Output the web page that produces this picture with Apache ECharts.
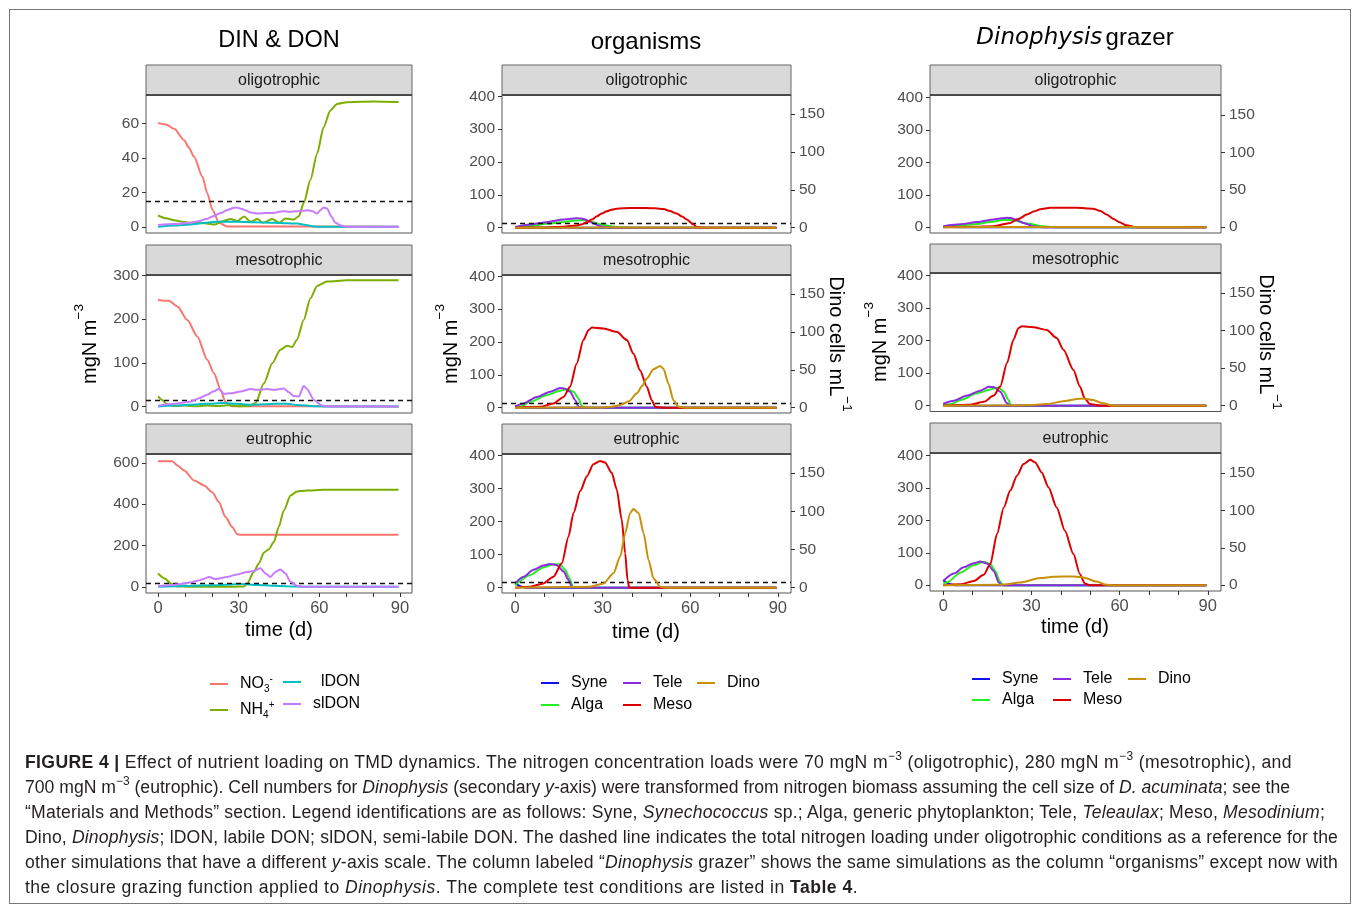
<!DOCTYPE html>
<html>
<head>
<meta charset="utf-8">
<title>Figure 4</title>
<script src="https://cdn.jsdelivr.net/npm/echarts@6.0.0/dist/echarts.min.js"></script>
<style>
  body { margin: 0; background: #fff; }
  #main { position: absolute; left: 0; top: 0; width: 1358px; height: 905px; }
  #frame { position: absolute; left: 9px; top: 9px; width: 1340px; height: 893px; border: 1px solid #777; pointer-events: none; }
  #caption { position: absolute; left: 25px; top: 750px; font-family: "Liberation Sans", Arial, sans-serif; font-size: 17.6px; line-height: 25px; color: #231f20; white-space: nowrap; }
  #caption div span.ln { display: inline-block; }
  #caption sup { font-size: 12px; line-height: 0; position: relative; top: -1px; }
</style>
</head>
<body>
<div id="main"></div>
<div id="frame"></div>
<div id="caption">
<div><span class="ln" data-end="1292"><b>FIGURE 4 |</b> Effect of nutrient loading on TMD dynamics. The nitrogen concentration loads were 70 mgN m<sup>−3</sup> (oligotrophic), 280 mgN m<sup>−3</sup> (mesotrophic), and</span></div>
<div><span class="ln" data-end="1290">700 mgN m<sup>−3</sup> (eutrophic). Cell numbers for <i>Dinophysis</i> (secondary <i>y</i>-axis) were transformed from nitrogen biomass assuming the cell size of <i>D. acuminata</i>; see the</span></div>
<div><span class="ln" data-end="1325">“Materials and Methods” section. Legend identifications are as follows: Syne, <i>Synechococcus</i> sp.; Alga, generic phytoplankton; Tele, <i>Teleaulax</i>; Meso, <i>Mesodinium</i>;</span></div>
<div><span class="ln" data-end="1338">Dino, <i>Dinophysis</i>; lDON, labile DON; slDON, semi-labile DON. The dashed line indicates the total nitrogen loading under oligotrophic conditions as a reference for the</span></div>
<div><span class="ln" data-end="1338">other simulations that have a different <i>y</i>-axis scale. The column labeled “<i>Dinophysis</i> grazer” shows the same simulations as the column “organisms” except now with</span></div>
<div><span class="ln" data-end="858">the closure grazing function applied to <i>Dinophysis</i>. The complete test conditions are listed in <b>Table 4</b>.</span></div>
</div>
<script type="text/javascript">

// ---- data: [time (d), value] ----
// DIN & DON column
var no3Oligo = [[0,60.5],[3,59.5],[6,57],[9.7,50.4],[11.5,46],[13.4,40.7],[16.5,29.2],[18.3,19.6],[20.2,10],[22.7,2.3],[25.7,0.2],[89.5,0]];
var nh4Oligo = [[0,6.6],[3,5],[6,3.8],[9,3],[12,2.3],[15,2.5],[18,2],[21,1.3],[24,3.3],[27,4.6],[29.5,3.3],[32,6],[34.4,3],[37,4.6],[39,2.3],[42.5,4.6],[45,2.3],[47.4,4.8],[50.5,4.2],[52.4,6.2],[54.2,13.8],[56.7,27.3],[59.2,42.7],[61.6,58],[64.1,67.7],[66.6,71.5],[70.3,72.5],[80,72.9],[89.5,72.6]];
var ldonOligo = [[0,0],[6,0.7],[12,1.3],[17,2.2],[22,3],[26,3],[30,2.9],[36,2.6],[43,2.3],[48,2.1],[51.7,1.9],[55,1],[58,0.2],[62,0],[89.5,0]];
var sldonOligo = [[0,1],[6,1.6],[12,2.3],[15,3.2],[18,4.6],[21,6.5],[23.3,8],[26,10],[28.8,11.3],[30.5,10.7],[32,10],[34.5,8.3],[37,7.7],[40,8],[43,8],[45,8.8],[46.8,9],[49,8.7],[51.7,9],[54,9.3],[56,9.6],[57.5,9],[59.2,7.7],[60.5,9.8],[61.6,11.3],[62.9,10.6],[64.5,6],[66,2.3],[68,0.8],[70.3,0],[89.5,0]];

var no3Meso = [[0,244],[4,242],[7.2,229],[10.9,198],[14.6,160],[18.3,107],[20.8,76],[23.3,38],[25,11],[27.6,0.5],[89.5,0]];
var nh4Meso = [[0,23],[1.5,15],[3.5,4],[6,1],[10,2],[14,0.5],[18,2],[22,1],[26,2.5],[30,0.5],[34,1.5],[36.3,8],[39.4,53],[42.5,99],[45.5,130],[48,139],[49.9,136],[51.7,153],[54.2,198],[56.7,248],[59.2,276],[62.9,286],[70.3,289],[89.5,289]];
var ldonMeso = [[0,0],[6,2],[12,4],[18,6],[24.5,8],[29,6],[34.4,4],[40,5],[44,6],[48,6],[52,3.5],[58,0.5],[62,0],[89.5,0]];
var sldonMeso = [[0,1.5],[6,6],[12,11],[15,18],[18.3,27],[20.5,34],[22.6,40],[24.5,29],[27,30],[30.7,34],[34.4,40],[37,38],[40.6,40],[43,38],[46.8,41],[48.5,33],[50.5,24],[52.4,23],[54.2,47],[55.4,40],[58,15],[61,2],[64,0],[89.5,0]];

var no3Eu = [[0,608],[5.3,608],[7.2,587],[9.7,563],[13.4,515],[17.1,491],[20.2,458],[22.6,410],[25.1,338],[27.6,290],[29.5,254],[30.7,252],[89.5,252]];
var nh4Eu = [[0,64],[2.5,40],[4.7,16],[7.2,2],[12,0],[20,0],[28,0],[32,2],[33.2,16],[35.6,72],[37.5,113],[39.4,166],[41.2,182],[43.1,217],[44.9,290],[46.8,370],[49.3,442],[51.7,462],[55.4,466],[61.6,470],[89.5,470]];
var ldonEu = [[0,0],[10,4],[20,8],[30.7,13],[37,9],[43,5],[49,2],[54,0],[89.5,0]];
var sldonEu = [[0,3],[4,7],[8.4,13],[11.5,20],[14.6,29],[17,38],[18.9,48],[21.4,37],[25.7,48],[29.5,60],[33.2,72],[35.6,77],[38.1,90],[40,64],[41.8,48],[43.7,72],[45.5,84],[47.4,64],[49.3,24],[51.7,5],[54,0],[89.5,0]];

// organisms column
var syneOligo = [[0,0.5],[5,0],[89.5,0]];
var algaOligo = [[0,1],[5,5],[10.8,12],[15,16],[18.8,20],[21,22],[23.4,23],[25,21],[26.8,17],[29,11],[31.4,7],[34,3],[36,1],[40,0],[89.5,0]];
var teleOligo = [[0,2],[5.1,10],[10.8,17],[16.6,25],[19,27.5],[21.1,29],[22.6,28],[24,25],[25.5,19],[26.8,13],[28.5,7],[30.3,3],[33.7,0],[89.5,0]];
var mesoOligo = [[0,0],[10,1],[16.6,3],[21.1,7],[23,11],[24.6,17],[26.3,25],[28,35],[29.7,43],[31.4,50],[33,55],[34.8,58],[39.4,60],[45.1,60],[48,59],[50.8,57],[53,51],[55.4,43],[57.2,34],[58.8,25],[61.1,10],[62.2,2],[65.7,0],[89.5,0]];
var dinoOligo = [[0,0],[30,0.5],[50,0.8],[70,0.3],[89.5,0.2]];

var syneMeso = [[0,5],[2,1],[4,0],[89.5,0]];
var algaMeso = [[0,1],[1.7,3],[5.1,18],[10.8,38],[15.4,52],[17.7,56],[20,49],[21.7,28],[22.8,5],[24,0],[89.5,0]];
var teleMeso = [[0,4],[2.9,13],[7.4,33],[12,49],[15.4,60],[17.1,58],[18.8,49],[20.6,23],[21.7,3],[23.4,0],[89.5,0]];
var mesoMeso = [[0,0],[8.6,3],[13.1,13],[16.6,33],[18.8,64],[21.1,135],[23.4,206],[25.1,236],[26.3,244],[30.3,241],[34.8,231],[38.3,206],[40.5,165],[42.8,114],[45.1,64],[46.8,23],[48,3],[50.8,0],[89.5,0]];
var dinoMeso = [[0,0],[30.3,1],[33,3],[36,8],[39,20],[41.7,44],[43.5,66],[45.1,89],[47.4,117],[49.7,127],[50.8,119],[52.5,74],[54.2,23],[56,3],[58.8,0],[89.5,0]];

var syneEu = [[0,13],[2.3,3],[4,0],[89.5,0]];
var algaEu = [[0,8],[5.1,38],[9.7,61],[13.1,71],[15.4,71],[17.1,54],[18.6,28],[19.8,3],[21,0],[89.5,0]];
var teleEu = [[0,13],[2.9,33],[6.3,54],[9.7,67],[12,72],[14.3,68],[16.6,49],[18.3,23],[19.4,3],[21,0],[89.5,0]];
var mesoEu = [[0,0],[5.1,3],[9.7,13],[13.1,33],[16,74],[18.3,155],[20,226],[22.3,292],[24.6,337],[26.8,373],[29.1,383],[30.8,378],[33.1,347],[34.8,297],[36.5,206],[37.7,104],[38.5,23],[39.1,0],[89.5,0]];
var dinoEu = [[0,0],[25.7,3],[30.3,13],[33.7,44],[36,94],[37.7,165],[39.4,226],[40.5,238],[42.3,226],[44,165],[45.7,84],[47.4,28],[49.7,3],[52,0],[89.5,0]];

// Dinophysis grazer column
var syneGzOligo = [[0,0.5],[5,0],[89.5,0]];
var algaGzOligo = [[0,1],[5,5],[11.5,10],[16,16],[20.6,22],[23.9,22],[26,17],[28.5,11],[34,3],[37.5,0],[89.5,0]];
var teleGzOligo = [[0,3],[5.9,9],[11.5,16],[17.2,24],[21.7,29],[23,28],[24.5,24],[27.3,13],[30.7,3],[34,0],[89.5,0]];
var mesoGzOligo = [[0,0],[10,1],[17.2,3],[22.8,13],[25.5,25],[28.5,39],[31,49],[33,55],[36.4,60],[45.4,60],[51,57],[53.5,50],[55.6,39],[58,25],[60,15],[62.3,6],[65.7,0],[89.5,0]];
var dinoGzOligo = [[0,0],[30,0.4],[50,0.6],[70,0.2],[89.5,0.1]];

var syneGzMeso = [[0,4],[2,1],[4,0],[89.5,0]];
var algaGzMeso = [[0,1],[2.5,4],[5.9,17],[11.5,38],[16,50],[18.8,56],[20.6,43],[22.2,17],[23.1,0],[89.5,0]];
var teleGzMeso = [[0,5],[3.6,15],[8.1,31],[12.6,46],[15.5,58],[17.2,57],[19.4,43],[21.7,7],[22.8,0],[89.5,0]];
var mesoGzMeso = [[0,0],[9.3,3],[13.8,12],[17.2,31],[19.4,59],[21.7,131],[23.9,203],[25.6,239],[26.8,244],[30.7,241],[35.2,233],[38.6,208],[40.9,172],[44.3,110],[46.5,59],[48.2,21],[49.9,5],[53.3,0],[89.5,0]];
var dinoGzMeso = [[0,0],[28.5,1],[35.2,5],[42,15],[45,20],[47.7,22],[51,17],[54.4,7],[57.8,0],[89.5,0]];

var syneGzEu = [[0,15],[2.5,3],[4.2,0],[89.5,0]];
var algaGzEu = [[0,5],[1.4,9],[5.9,39],[10.4,62],[13.8,72],[16,65],[17.7,44],[19.2,13],[20.3,0],[89.5,0]];
var teleGzEu = [[0,13],[3.6,36],[7,55],[10.4,68],[12.6,73],[14.9,67],[17.2,44],[18.9,8],[20,0],[89.5,0]];
var mesoGzEu = [[0,0],[5.9,3],[10.4,13],[13.8,32],[16,65],[18.3,158],[20.6,240],[22.8,292],[25.1,338],[27.3,374],[29.6,387],[31.3,379],[33.5,348],[35.8,302],[38.6,240],[41.4,168],[44.3,96],[46.5,34],[48.2,5],[49.9,0],[89.5,0]];
var dinoGzEu = [[0,0],[19.4,1],[26.2,8],[33,22],[37.5,26],[44.3,27],[47.7,24],[52.2,11],[55.6,1],[57.8,0],[89.5,0]];

// ticks, labels, reference load
var timeTicks = [0,10,20,30,40,50,60,70,80,90];
var timeLabels = [0,30,60,90];
var dinTicks = [[0,20,40,60],[0,100,200,300],[0,200,400,600]];
var orgTicks = [0,100,200,300,400];
var dinoCellTicks = [0,50,100,150];
var refLoad = 15;
var conditions = ['oligotrophic','mesotrophic','eutrophic'];

var colors = {
    'NO3': '#F8766D', 'NH4': '#7CAE00', 'lDON': '#00BFC4', 'slDON': '#C77CFF',
    'Syne': '#1010F0', 'Alga': '#22EE22', 'Tele': '#8A2BE2', 'Meso': '#DD0000', 'Dino': '#C8900A'
};

// ---- layout ----
var cols = [{left:146,width:266},{left:502,width:289},{left:930,width:291}];
var rows = [
    [{strip:65,top:95,bottom:233},{strip:245,top:275,bottom:413},{strip:424,top:454,bottom:593}],
    [{strip:65,top:95,bottom:233},{strip:245,top:275,bottom:413},{strip:424,top:454,bottom:593}],
    [{strip:65,top:95,bottom:233},{strip:244,top:273,bottom:411.5},{strip:423,top:453,bottom:591}]
];
var yRange = [
    [[-3.6,76.7],[-15,301],[-30,643]],
    [[-16,404],[-16,404],[-16,404]],
    [[-18,408],[-18,408],[-18,408]]
];
var cellFactor = 2.31;   // mgN m-3 per Dino cell mL-1

var panels = [
    {col:0,row:0,lines:[['NO3',no3Oligo],['NH4',nh4Oligo],['lDON',ldonOligo],['slDON',sldonOligo]]},
    {col:0,row:1,lines:[['NO3',no3Meso],['NH4',nh4Meso],['lDON',ldonMeso],['slDON',sldonMeso]]},
    {col:0,row:2,lines:[['NO3',no3Eu],['NH4',nh4Eu],['lDON',ldonEu],['slDON',sldonEu]]},
    {col:1,row:0,lines:[['Syne',syneOligo],['Alga',algaOligo],['Tele',teleOligo],['Meso',mesoOligo],['Dino',dinoOligo]]},
    {col:1,row:1,lines:[['Syne',syneMeso],['Alga',algaMeso],['Tele',teleMeso],['Meso',mesoMeso],['Dino',dinoMeso]]},
    {col:1,row:2,lines:[['Syne',syneEu],['Alga',algaEu],['Tele',teleEu],['Meso',mesoEu],['Dino',dinoEu]]},
    {col:2,row:0,lines:[['Syne',syneGzOligo],['Alga',algaGzOligo],['Tele',teleGzOligo],['Meso',mesoGzOligo],['Dino',dinoGzOligo]]},
    {col:2,row:1,lines:[['Syne',syneGzMeso],['Alga',algaGzMeso],['Tele',teleGzMeso],['Meso',mesoGzMeso],['Dino',dinoGzMeso]]},
    {col:2,row:2,lines:[['Syne',syneGzEu],['Alga',algaGzEu],['Tele',teleGzEu],['Meso',mesoGzEu],['Dino',dinoGzEu]]}
];

var FONT = '"Liberation Sans", Arial, sans-serif';
var tickLabel = {color:'#4d4d4d', fontSize:15.5, fontFamily:FONT};
var noLine = {show:false, onZero:false};

var grids = [], xAxes = [], yAxes = [], rightAxes = [], series = [], graphics = [];

panels.forEach(function (p, i) {
    var c = cols[p.col], r = rows[p.col][p.row], yr = yRange[p.col][p.row];
    var bottomRow = p.row === 2;
    var yTicks = p.col === 0 ? dinTicks[p.row] : orgTicks;
    grids.push({left:c.left, top:r.top, width:c.width, height:r.bottom - r.top,
                show:true, borderColor:'#555', borderWidth:1, backgroundColor:'#fff'});
    xAxes.push({
        type:'value', gridIndex:i, min:-4.5, max:94.5, position:'bottom',
        axisLine:noLine, splitLine:{show:false},
        axisTick:{show:bottomRow, customValues:timeTicks, length:4, lineStyle:{color:'#333'}},
        axisLabel:{show:bottomRow, customValues:timeLabels, margin:7, fontSize:16.5, color:'#4d4d4d', fontFamily:FONT}
    });
    yAxes.push({
        type:'value', gridIndex:i, min:yr[0], max:yr[1], position:'left',
        axisLine:noLine, splitLine:{show:false},
        axisTick:{show:true, customValues:yTicks, length:4, lineStyle:{color:'#333'}},
        axisLabel:Object.assign({customValues:yTicks, margin:7}, tickLabel)
    });
    if (p.col > 0) {
        rightAxes.push({
            type:'value', gridIndex:i, min:yr[0] / cellFactor, max:yr[1] / cellFactor, position:'right',
            axisLine:noLine, splitLine:{show:false},
            axisTick:{show:true, customValues:dinoCellTicks, length:4, lineStyle:{color:'#333'}},
            axisLabel:Object.assign({customValues:dinoCellTicks, margin:8}, tickLabel)
        });
    }
    p.lines.forEach(function (ln, j) {
        var s = {
            name:ln[0], type:'line', data:ln[1], xAxisIndex:i, yAxisIndex:i,
            showSymbol:false, symbol:'none', smooth:0.25, smoothMonotone:'x',
            lineStyle:{color:colors[ln[0]], width:2}, itemStyle:{color:colors[ln[0]]},
            silent:true, animation:false, z:2 + j
        };
        if (p.col < 2 && j === p.lines.length - 1) {
            s.markLine = {silent:true, symbol:'none', label:{show:false}, animation:false,
                lineStyle:{color:'#111', type:[5,4], width:1.3}, data:[{yAxis:refLoad}]};
        }
        series.push(s);
    });
    // strip header
    graphics.push({type:'rect', shape:{x:c.left, y:r.strip, width:c.width, height:r.top - r.strip},
        style:{fill:'#d9d9d9', stroke:'#666', lineWidth:1}, z:10});
    graphics.push({type:'line', shape:{x1:c.left, y1:r.top, x2:c.left + c.width, y2:r.top},
        style:{stroke:'#333', lineWidth:1.6}, z:11});
    graphics.push({type:'text', x:c.left + c.width / 2, y:(r.strip + r.top) / 2 + 1, z:12,
        style:{text:conditions[p.row], fill:'#1a1a1a', fontSize:16, fontFamily:FONT, align:'center', verticalAlign:'middle'}});
});

// column titles
graphics.push({type:'text', x:279, y:41, style:{text:'DIN & DON', fill:'#000', fontSize:23.5, fontFamily:FONT, align:'center', verticalAlign:'middle'}});
graphics.push({type:'text', x:646, y:42, style:{text:'organisms', fill:'#000', fontSize:24, fontFamily:FONT, align:'center', verticalAlign:'middle'}});
graphics.push({type:'text', x:1075, y:38, style:{text:'{i|Dinophysis} {g|grazer}', fill:'#000', align:'center', verticalAlign:'middle',
    rich:{i:{fontStyle:'italic', fontSize:23, fontFamily:'"DejaVu Sans", sans-serif', fill:'#000'},
          g:{fontSize:24, fontFamily:FONT, fill:'#000'}}}});

// axis titles
var unitRich = {
    a:{fontSize:20, fontFamily:FONT, fill:'#000', lineHeight:28, verticalAlign:'bottom'},
    s:{fontSize:13.5, fontFamily:FONT, fill:'#000', lineHeight:28, verticalAlign:'top'}
};
[[86,344],[447,344],[876,342]].forEach(function (pos) {
    graphics.push({type:'text', x:pos[0], y:pos[1], rotation:Math.PI / 2,
        style:{text:'{a|mgN m}{s|−3}', align:'center', verticalAlign:'middle', rich:unitRich}});
});
[[840,344],[1270,342]].forEach(function (pos) {
    graphics.push({type:'text', x:pos[0], y:pos[1], rotation:-Math.PI / 2,
        style:{text:'{a|Dino cells mL}{s|−1}', align:'center', verticalAlign:'middle', rich:unitRich}});
});
[[279,630],[646,632],[1075,627]].forEach(function (pos) {
    graphics.push({type:'text', x:pos[0], y:pos[1],
        style:{text:'time (d)', fill:'#000', fontSize:20, fontFamily:FONT, align:'center', verticalAlign:'middle'}});
});

// legends
var legendRich = {
    n:{fontSize:16, fontFamily:FONT, color:'#000', lineHeight:20, padding:[0,0,0,7]},
    sb:{fontSize:10, fontFamily:FONT, color:'#000', lineHeight:20, verticalAlign:'bottom'},
    sp:{fontSize:10, fontFamily:FONT, color:'#000', lineHeight:20, verticalAlign:'top'},
    g:{fontSize:16, fontFamily:FONT, color:'#000', lineHeight:20, padding:[0,0,0,15]}
};
function legendName(name) {
    if (name === 'NO3') return '{n|NO}{sb|3}{sp|-}';
    if (name === 'NH4') return '{n|NH}{sb|4}{sp|+}';
    if (name === 'lDON') return '{g|lDON}';
    return '{n|' + name + '}';
}
function makeLegend(names, left, top, gap) {
    return {data:names, left:left, top:top, orient:'vertical', icon:'rect', itemWidth:18, itemHeight:2,
        itemGap:gap, selectedMode:false, formatter:legendName, padding:0,
        textStyle:{rich:legendRich, fontSize:16, fontFamily:FONT, color:'#000'}};
}
var legends = [
    makeLegend(['NO3','NH4'], 210, 674, 6),
    makeLegend(['lDON','slDON'], 283, 674, 6),
    makeLegend(['Syne','Alga'], 541, 675, 6),
    makeLegend(['Tele','Meso'], 623, 675, 6),
    makeLegend(['Dino'], 697, 675, 6),
    makeLegend(['Syne','Alga'], 972, 671, 5),
    makeLegend(['Tele','Meso'], 1053, 671, 5),
    makeLegend(['Dino'], 1128, 671, 5)
];

var myChart = echarts.init(document.getElementById('main'));
myChart.setOption({
    animation:false,
    backgroundColor:'#fff',
    grid:grids,
    xAxis:xAxes,
    yAxis:yAxes.concat(rightAxes),
    legend:legends,
    series:series,
    graphic:graphics
});

// stretch each caption line to the width it has in the printed figure
var lines = document.querySelectorAll('#caption span.ln');
for (var k = 0; k < lines.length; k++) {
    var el = lines[k];
    var target = parseFloat(el.getAttribute('data-end')) - 25;
    var w = el.getBoundingClientRect().width;
    var n = el.textContent.length;
    el.style.letterSpacing = ((target - w) / n).toFixed(3) + 'px';
}
</script>
</body>
</html>
